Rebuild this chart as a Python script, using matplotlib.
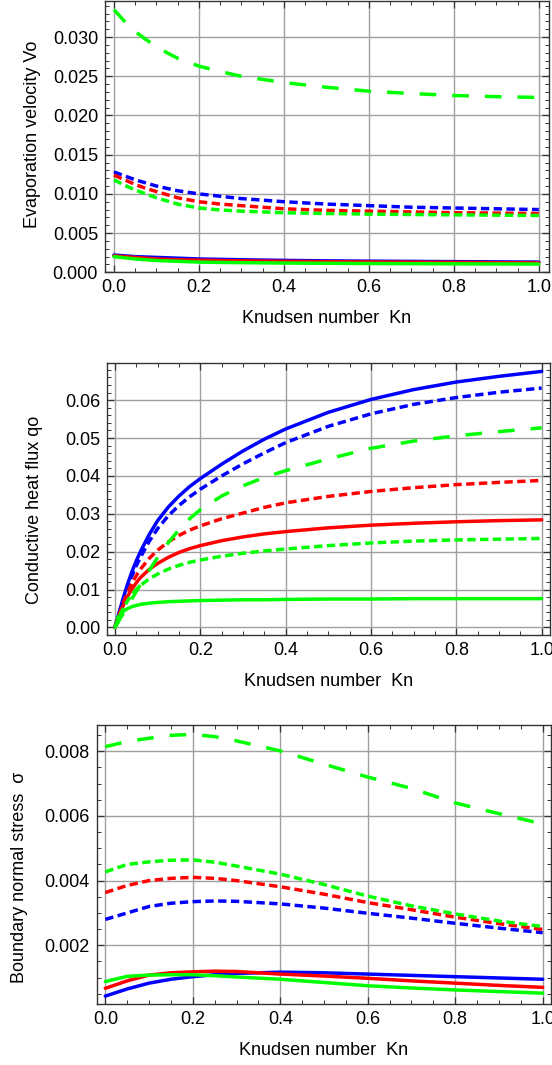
import matplotlib
matplotlib.use('Agg')
import matplotlib.pyplot as plt
from matplotlib.ticker import MultipleLocator, FormatStrFormatter

plt.rcParams['font.family'] = ['Liberation Sans', 'DejaVu Sans']
plt.rcParams['font.size'] = 13
plt.rcParams['lines.scale_dashes'] = False

# --- evaporation velocity Vo vs Kn ---
kn_v = [0, 0.025, 0.05, 0.075, 0.1, 0.125, 0.15, 0.2, 0.25, 0.3, 0.4, 0.5, 0.6, 0.7, 0.8, 0.9, 1.0]
vo_blue_solid = [0.0022, 0.0021, 0.0020, 0.00195, 0.0019, 0.00185, 0.0018, 0.0017, 0.00165, 0.0016, 0.00152, 0.00146, 0.00142, 0.00139, 0.00136, 0.00133, 0.0013]
vo_red_solid = [0.0021, 0.0020, 0.0019, 0.0018, 0.0017, 0.00165, 0.0016, 0.00155, 0.0015, 0.00146, 0.0014, 0.00135, 0.00132, 0.00129, 0.00126, 0.00123, 0.0012]
vo_green_solid = [0.0020, 0.00185, 0.0017, 0.0016, 0.0015, 0.00145, 0.0014, 0.0013, 0.00126, 0.00123, 0.00118, 0.00115, 0.00112, 0.0011, 0.00108, 0.00106, 0.00105]
vo_blue_dash = [0.0128, 0.0123, 0.0118, 0.0114, 0.0110, 0.0107, 0.0104, 0.0100, 0.0097, 0.0094, 0.0090, 0.0087, 0.0085, 0.0083, 0.0082, 0.0081, 0.0080]
vo_red_dash = [0.0124, 0.0118, 0.0112, 0.0107, 0.0103, 0.0099, 0.0095, 0.0090, 0.0087, 0.0085, 0.0081, 0.0079, 0.0078, 0.0077, 0.0076, 0.00755, 0.0075]
vo_green_dash = [0.0118, 0.0111, 0.0105, 0.0100, 0.0095, 0.0091, 0.0087, 0.0082, 0.00795, 0.0078, 0.0076, 0.0075, 0.00742, 0.00737, 0.00733, 0.00729, 0.00725]
vo_green_long = [0.0335, 0.0320, 0.0307, 0.0297, 0.0288, 0.0280, 0.0273, 0.0263, 0.0256, 0.0250, 0.0242, 0.0236, 0.0231, 0.0228, 0.02255, 0.0224, 0.0223]

# --- conductive heat flux qo vs Kn ---
kn_q = [0, 0.005, 0.01, 0.02, 0.03, 0.04, 0.05, 0.06, 0.08, 0.1, 0.125, 0.15, 0.175, 0.2,
        0.25, 0.3, 0.35, 0.4, 0.5, 0.6, 0.7, 0.8, 0.9, 1.0]
qo_blue_solid = [0, 0.0021, 0.0041, 0.0080, 0.0116, 0.0148, 0.0176, 0.0201, 0.0245, 0.0282, 0.0318, 0.0347,
                 0.0372, 0.0393, 0.0431, 0.0466, 0.0497, 0.0524, 0.0568, 0.0602, 0.0628, 0.0648, 0.0663, 0.0676]
qo_red_solid = [0, 0.0017, 0.0033, 0.0060, 0.0083, 0.0102, 0.0118, 0.0132, 0.0153, 0.0169, 0.0185, 0.0198,
                0.0208, 0.0216, 0.0229, 0.0239, 0.0247, 0.0253, 0.0263, 0.0270, 0.0275, 0.0279, 0.0282, 0.0284]
qo_green_solid = [0, 0.0022, 0.0032, 0.0043, 0.0050, 0.0055, 0.0058, 0.0061, 0.0064, 0.0066, 0.0068, 0.0069,
                  0.0070, 0.0071, 0.0072, 0.0073, 0.0073, 0.0074, 0.0075, 0.0075, 0.0076, 0.0076, 0.0076, 0.0076]
qo_blue_dash = [0, 0.0020, 0.0039, 0.0075, 0.0108, 0.0137, 0.0163, 0.0186, 0.0227, 0.0261, 0.0295, 0.0322,
                0.0345, 0.0365, 0.0400, 0.0432, 0.0461, 0.0488, 0.0531, 0.0564, 0.0589, 0.0607, 0.0621, 0.0632]
qo_red_dash = [0, 0.0018, 0.0035, 0.0066, 0.0093, 0.0117, 0.0137, 0.0154, 0.0182, 0.0204, 0.0226, 0.0243,
               0.0257, 0.0268, 0.0287, 0.0302, 0.0317, 0.0329, 0.0346, 0.0359, 0.0369, 0.0377, 0.0383, 0.0388]
qo_green_dash = [0, 0.0015, 0.0029, 0.0052, 0.0071, 0.0087, 0.0100, 0.0111, 0.0128, 0.0141, 0.0154, 0.0164,
                 0.0172, 0.0178, 0.0188, 0.0196, 0.0202, 0.0207, 0.0216, 0.0223, 0.0228, 0.0231, 0.0233, 0.0235]
qo_green_long = [0, 0.0009, 0.0019, 0.0038, 0.0057, 0.0076, 0.0095, 0.0114, 0.0150, 0.0185, 0.0224, 0.0258,
                 0.0287, 0.0311, 0.0347, 0.0374, 0.0396, 0.0414, 0.0445, 0.0473, 0.0492, 0.0506, 0.0517, 0.0527]

# --- boundary normal stress sigma vs Kn ---
kn_s = [0, 0.05, 0.1, 0.15, 0.2, 0.25, 0.3, 0.4, 0.5, 0.6, 0.7, 0.8, 0.9, 1.0]
sg_blue_solid = [0.00043, 0.00065, 0.00083, 0.00095, 0.00103, 0.00109, 0.00113, 0.00117, 0.00115, 0.00111, 0.00107, 0.00103, 0.00099, 0.00095]
sg_red_solid = [0.00067, 0.0009, 0.00108, 0.00115, 0.00118, 0.0012, 0.00119, 0.00111, 0.00105, 0.00098, 0.0009, 0.00083, 0.00076, 0.0007]
sg_green_solid = [0.00088, 0.00104, 0.00108, 0.00109, 0.00109, 0.00106, 0.00102, 0.00095, 0.00085, 0.00075, 0.00068, 0.00062, 0.00057, 0.00052]
sg_blue_dash = [0.0028, 0.0030, 0.0032, 0.0033, 0.00335, 0.00337, 0.00336, 0.00328, 0.00315, 0.00299, 0.00284, 0.00268, 0.00253, 0.00239]
sg_red_dash = [0.00363, 0.00385, 0.0040, 0.00407, 0.0041, 0.00407, 0.0040, 0.00381, 0.00358, 0.00332, 0.0031, 0.00287, 0.00267, 0.00249]
sg_green_dash = [0.00427, 0.0045, 0.00458, 0.00463, 0.00464, 0.00457, 0.00445, 0.0042, 0.00388, 0.00352, 0.00322, 0.00297, 0.00275, 0.00258]
sg_green_long = [0.00814, 0.0083, 0.0084, 0.00849, 0.00852, 0.00845, 0.00832, 0.00801, 0.0076, 0.0072, 0.00685, 0.0064, 0.00607, 0.00575]

BLUE, RED, GREEN = '#0000ff', '#ff0000', '#00ff00'
LW = 2.5
SHORT = (6, 3.2)    # dash on/off in points
LONG = (12, 11.5)


def style_axes(ax, xlim, ylim, ymajor, yminor, yfmt, ylabel, label_xy):
    ax.set_xlim(*xlim)
    ax.set_ylim(*ylim)
    ax.xaxis.set_major_locator(MultipleLocator(0.2))
    ax.xaxis.set_minor_locator(MultipleLocator(0.05))
    ax.yaxis.set_major_locator(MultipleLocator(ymajor))
    ax.yaxis.set_minor_locator(MultipleLocator(yminor))
    ax.xaxis.set_major_formatter(FormatStrFormatter('%.1f'))
    ax.yaxis.set_major_formatter(FormatStrFormatter(yfmt))
    ax.tick_params(which='both', direction='in', top=True, right=True, colors='#333333', labelcolor='black', labelsize=13)
    ax.tick_params(which='major', length=5, width=0.9, pad=5)
    ax.tick_params(which='minor', length=3, width=0.7)
    ax.grid(True, which='major', color='#a0a0a0', lw=1.0)
    ax.set_axisbelow(True)
    for sp in ax.spines.values():
        sp.set_color('#333333')
        sp.set_linewidth(1.0)
    ax.set_xlabel('Knudsen number  Kn', fontsize=13, labelpad=10)
    ax.set_ylabel(ylabel, fontsize=13)
    ax.yaxis.set_label_coords(*label_xy)


def draw(ax, kn, series):
    for y, color, dash in series:
        if dash is None:
            ax.plot(kn, y, color=color, lw=LW, solid_capstyle='round', solid_joinstyle='round')
        else:
            ax.plot(kn, y, color=color, lw=LW, dashes=dash, dash_capstyle='butt', dash_joinstyle='round')


fig = plt.figure(figsize=(5.52, 10.65), dpi=100)

ax1 = fig.add_axes([105 / 552, 1 - 272.3 / 1065, 444 / 552, 271.3 / 1065])
draw(ax1, kn_v, [
    (vo_blue_solid, BLUE, None), (vo_red_solid, RED, None), (vo_green_solid, GREEN, None),
    (vo_blue_dash, BLUE, SHORT), (vo_red_dash, RED, SHORT), (vo_green_dash, GREEN, SHORT),
    (vo_green_long, GREEN, LONG),
])
style_axes(ax1, (-0.021, 1.024), (0, 0.0346), 0.005, 0.001, '%.3f',
           'Evaporation velocity Vo', (-0.144, 0.51))

ax2 = fig.add_axes([107 / 552, 1 - 635 / 1065, 443 / 552, 272.3 / 1065])
draw(ax2, kn_q, [
    (qo_blue_solid, BLUE, None), (qo_red_solid, RED, None), (qo_green_solid, GREEN, None),
    (qo_blue_dash, BLUE, SHORT), (qo_red_dash, RED, SHORT), (qo_green_dash, GREEN, SHORT),
    (qo_green_long, GREEN, LONG),
])
style_axes(ax2, (-0.0187, 1.0195), (-0.002, 0.0699), 0.01, 0.002, '%.2f',
           'Conductive heat flux qo', (-0.1445, 0.46))

ax3 = fig.add_axes([96.7 / 552, 1 - 1004.3 / 1065, 454.6 / 552, 279.3 / 1065])
draw(ax3, kn_s, [
    (sg_blue_solid, BLUE, None), (sg_red_solid, RED, None), (sg_green_solid, GREEN, None),
    (sg_blue_dash, BLUE, SHORT), (sg_red_dash, RED, SHORT), (sg_green_dash, GREEN, SHORT),
    (sg_green_long, GREEN, LONG),
])
style_axes(ax3, (-0.0197, 1.0197), (0.000176, 0.00881), 0.002, 0.0005, '%.3f',
           'Boundary normal stress  σ', (-0.151, 0.455))

fig.savefig('out.png', dpi=100)
